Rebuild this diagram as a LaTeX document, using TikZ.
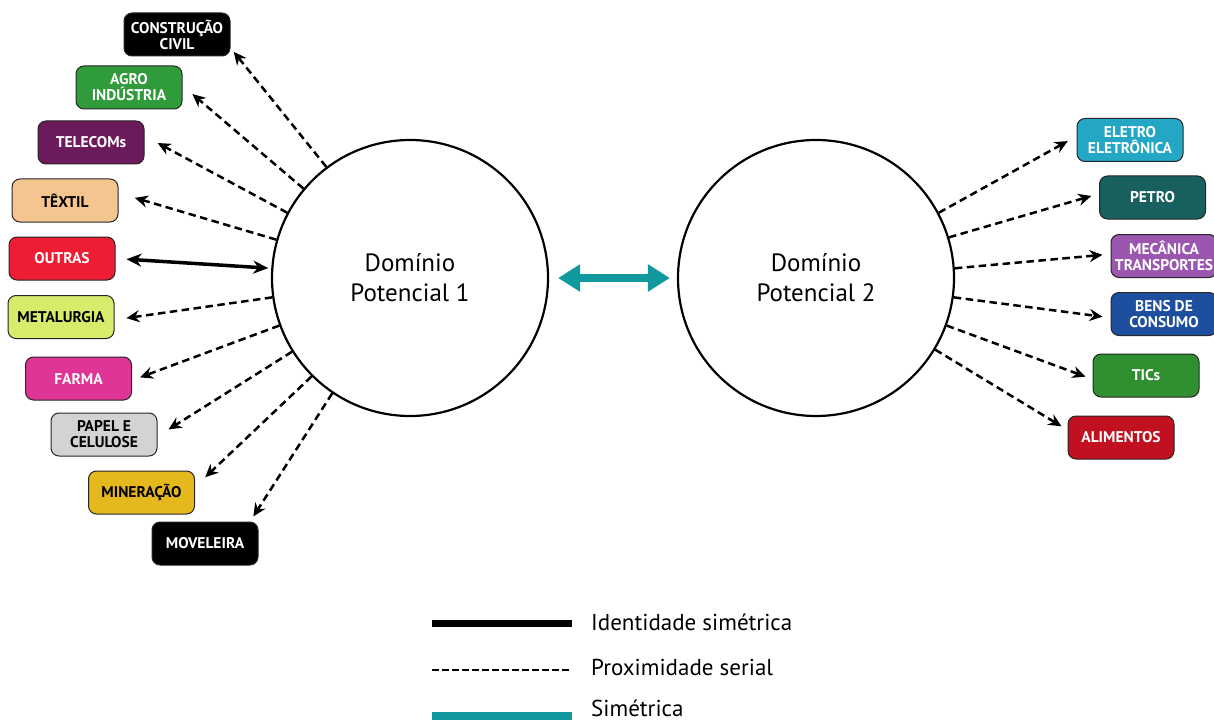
\documentclass[tikz,border=0pt]{standalone}
\usepackage{fontspec}
\setmainfont{PT Sans}
\usetikzlibrary{arrows.meta}
\definecolor{cAgro}{HTML}{2F9B3B}
\definecolor{cTele}{HTML}{6B1A5C}
\definecolor{cText}{HTML}{F5C590}
\definecolor{cOutr}{HTML}{EE1D33}
\definecolor{cMeta}{HTML}{D8EB6A}
\definecolor{cFarm}{HTML}{DE3597}
\definecolor{cPape}{HTML}{D3D3D3}
\definecolor{cMine}{HTML}{E5B81D}
\definecolor{cElet}{HTML}{23A7C5}
\definecolor{cPetr}{HTML}{17605E}
\definecolor{cMeca}{HTML}{9B57B0}
\definecolor{cBens}{HTML}{1E4F9F}
\definecolor{cTics}{HTML}{2F8F31}
\definecolor{cAlim}{HTML}{C11020}
\definecolor{cTeal}{HTML}{109A9D}
\begin{document}
\begin{tikzpicture}[x=1pt,y=-1pt,
  sector/.style={draw=black!85, line width=1pt, rounded corners=8pt,
    minimum width=106pt, minimum height=43pt, inner sep=0pt, align=center,
    font=\bfseries\fontsize{15.5}{16}\selectfont},
  dom/.style={circle, draw, line width=2.2pt, minimum size=276pt, inner sep=0pt,
    align=center, font=\fontsize{25}{30}\selectfont},
  prox/.style={line width=2.5pt, dash pattern=on 7.5pt off 4.5pt,
    -{Stealth[length=13pt,width=12pt]}},
  ident/.style={line width=3.5pt,
    {Stealth[length=15pt,width=13pt]}-{Stealth[length=15pt,width=13pt]}},
  sim/.style={line width=8pt, draw=cTeal,
    {Triangle[length=22pt,width=26pt]}-{Triangle[length=22pt,width=26pt]}},
  legtext/.style={anchor=base west, inner sep=0pt, font=\fontsize{23}{26}\selectfont},
]
\useasboundingbox (0,0) rectangle (1214,722);

% domains
\node[dom] (c1) at (410,278) {Domínio\\Potencial 1};
\node[dom] (c2) at (816,278) {Domínio\\Potencial 2};

% left sectors
\node[sector, fill=black, text=white] (cc) at (177,34.5) {CONSTRUÇÃO\\CIVIL};
\node[sector, fill=cAgro, text=white] (agro) at (129,87.5) {AGRO\\INDÚSTRIA};
\node[sector, fill=cTele, text=white] (tele) at (91,142.5) {TELECOMs};
\node[sector, fill=cText, text=black] (text) at (65,200.5) {TÊXTIL};
\node[sector, fill=cOutr, text=white] (outr) at (62,258.5) {OUTRAS};
\node[sector, fill=cMeta, text=black] (meta) at (61,317) {METALURGIA};
\node[sector, fill=cFarm, text=white] (farm) at (78.5,378.5) {FARMA};
\node[sector, fill=cPape, text=black] (pape) at (104,434.5) {PAPEL E\\CELULOSE};
\node[sector, fill=cMine, text=black] (mine) at (141.5,492.5) {MINERAÇÃO};
\node[sector, fill=black, text=white] (move) at (205,543.5) {MOVELEIRA};

% right sectors
\node[sector, fill=cElet, text=white] (elet) at (1130,140) {ELETRO\\ELETRÔNICA};
\node[sector, fill=cPetr, text=white] (petr) at (1152.5,197.5) {PETRO};
\node[sector, fill=cMeca, text=white] (meca) at (1164,256) {MECÂNICA\\TRANSPORTES};
\node[sector, fill=cBens, text=white] (bens) at (1164,314) {BENS DE\\CONSUMO};
\node[sector, fill=cTics, text=white] (tics) at (1146,375.5) {TICs};
\node[sector, fill=cAlim, text=white] (alim) at (1121,437.5) {ALIMENTOS};

% connectors, left
\draw[prox, shorten >=5pt] (c1.127) -- (cc.-14.6);
\draw[prox, shorten >=13pt] (c1.140) -- (agro.2);
\draw[prox, shorten >=15pt] (c1.152.5) -- (tele.7);
\draw[prox, shorten >=17pt] (c1.164) -- (text.8);
\draw[ident, shorten <=11pt, shorten >=3pt] (outr.east) -- (c1.176);
\draw[prox, shorten >=12pt] (c1.188.7) -- (meta.-3);
\draw[prox, shorten >=8.5pt] (c1.200.4) -- (farm.-2);
\draw[prox, shorten >=13pt] (c1.212.8) -- (pape.-2.5);
\draw[prox, shorten >=14pt] (c1.225.3) -- (mine.6.5);
\draw[prox, shorten >=6pt] (c1.236.4) -- (move.26.2);

% connectors, right
\draw[prox, shorten >=10pt] (c2.28.4) -- (elet.176);
\draw[prox, shorten >=8pt] (c2.17) -- (petr.176);
\draw[prox, shorten >=8pt] (c2.4.5) -- (meca.178);
\draw[prox, shorten >=8pt] (c2.-8.2) -- (bens.184);
\draw[prox, shorten >=7.5pt] (c2.-20.4) -- (tics.184);
\draw[prox, shorten >=7pt] (c2.-31.9) -- (alim.172.6);

% symmetric link
\draw[sim, shorten <=9pt, shorten >=7pt] (c1) -- (c2);

% legend
\coordinate (la1) at (432,623); \coordinate (lb1) at (572,623);
\coordinate (la2) at (432,670); \coordinate (lb2) at (572,670);
\coordinate (la3) at (432,716); \coordinate (lb3) at (572,716);
\draw[line width=7pt] (la1) -- (lb1);
\draw[line width=2.5pt, dash pattern=on 6.5pt off 3.5pt] (la2) -- (lb2);
\draw[line width=8.5pt, cTeal] (la3) -- (lb3);
\node[legtext] (t1) at (591,630) {Identidade simétrica};
\node[legtext] (t2) at (591,675) {Proximidade serial};
\node[legtext] (t3) at (591,716) {Simétrica};
\end{tikzpicture}
\end{document}
